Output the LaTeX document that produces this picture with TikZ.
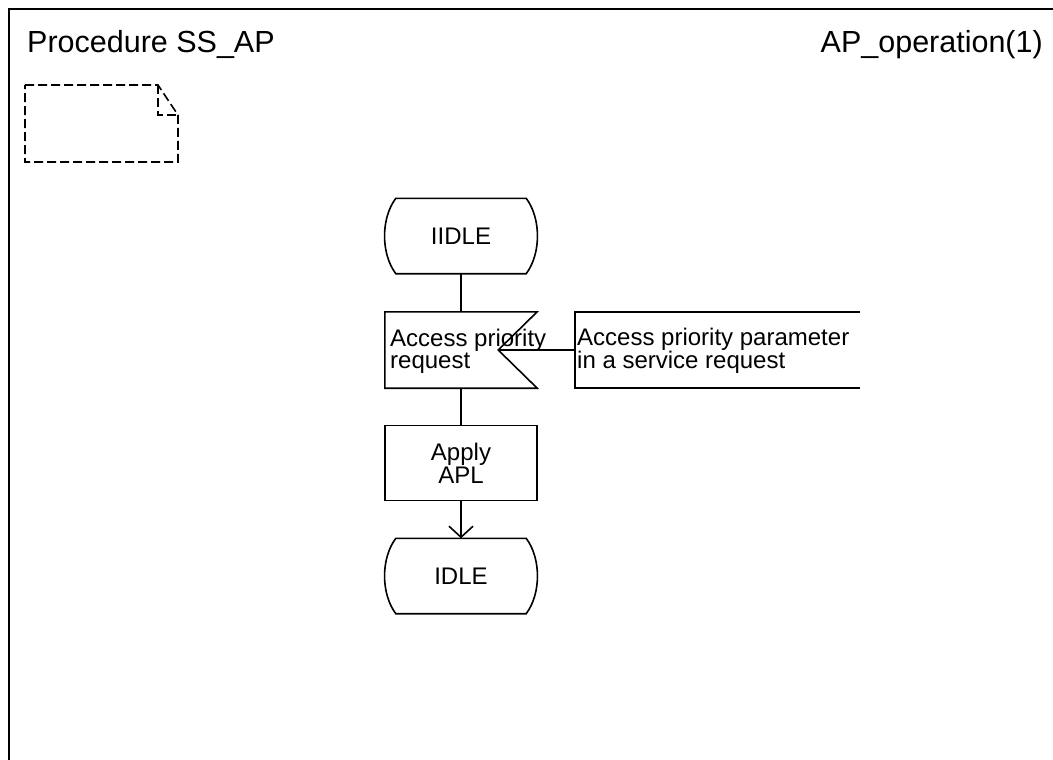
\documentclass[tikz,border=0pt]{standalone}
\usepackage{fontspec}
\setmainfont{Liberation Sans}
\usetikzlibrary{arrows.meta,calc}
\begin{document}
\begin{tikzpicture}[x=1pt,y=-1pt,
  shp/.style={line width=1.6pt},
  frameline/.style={line width=2pt},
  lbl/.style={font=\fontsize{24}{22}\selectfont, inner sep=0pt, align=left},
  title/.style={font=\fontsize{30.5}{36}\selectfont, inner sep=0pt},
  holder/.style={draw=none, inner sep=0pt, minimum width=152pt, minimum height=75pt, font=\fontsize{24}{23}\selectfont, align=center},
  notebox/.style={line width=1.6pt, dash pattern=on 9pt off 4pt},
  arr/.style={line width=1.6pt, -{Straight Barb[length=11pt,width=24pt,line width=1.6pt]}}
]
\useasboundingbox (0,0) rectangle (1053,760);
\fill[white] (0,0) rectangle (1053,760);
% frame
\draw[frameline] (8.5,760) -- (8.5,9.5) -- (1053,9.5);
\node[title, anchor=base west] (ttl) at (27,53) {Procedure SS\_AP};
\node[title, anchor=base east] (pg) at (1043,53) {AP\_operation(1)};
% dashed note
\draw[notebox] (25,85) -- (158,85) -- (178,115) -- (178,162) -- (25,162) -- cycle;
\draw[notebox] (158,85) -- (158,115) -- (178,115);
% state IIDLE
\node[holder] (s1) at (461,236) {IIDLE};
\draw[shp] ([xshift=11pt]s1.north west) -- ([xshift=-11pt]s1.north east)
  .. controls ([xshift=4pt,yshift=-20pt]s1.north east) and ([xshift=4pt,yshift=20pt]s1.south east) .. ([xshift=-11pt]s1.south east)
  -- ([xshift=11pt]s1.south west)
  .. controls ([xshift=-4pt,yshift=20pt]s1.south west) and ([xshift=-4pt,yshift=-20pt]s1.north west) .. cycle;
% input
\node[holder, minimum height=76pt] (inp) at (461,350) {};
\draw[shp] (inp.north west) -- (inp.north east) -- ([xshift=-39pt]inp.east) -- (inp.south east) -- (inp.south west) -- cycle;
\node[lbl, anchor=west] (inpt) at (390,351) {Access priority\\request};
% comment
\node[draw=none, inner sep=0pt, minimum width=285pt, minimum height=76pt] (cmt) at (717.5,350) {};
\draw[shp] (cmt.north east) -- (cmt.north west) -- (cmt.south west) -- (cmt.south east);
\node[lbl, anchor=west] (cmtt) at (577,351) {Access priority parameter\\in a service request};
\draw[shp] ([xshift=-39pt]inp.east) -- (cmt.west);
% task
\node[holder, draw, line width=1.6pt] (task) at (461,463) {Apply\\APL};
% state IDLE
\node[holder] (s2) at (461,576) {IDLE};
\draw[shp] ([xshift=11pt]s2.north west) -- ([xshift=-11pt]s2.north east)
  .. controls ([xshift=4pt,yshift=-20pt]s2.north east) and ([xshift=4pt,yshift=20pt]s2.south east) .. ([xshift=-11pt]s2.south east)
  -- ([xshift=11pt]s2.south west)
  .. controls ([xshift=-4pt,yshift=20pt]s2.south west) and ([xshift=-4pt,yshift=-20pt]s2.north west) .. cycle;
% connectors
\draw[shp] (s1.south) -- (inp.north);
\draw[shp] (inp.south) -- (task.north);
\draw[arr] (task.south) -- (s2.north);
\end{tikzpicture}
\end{document}
